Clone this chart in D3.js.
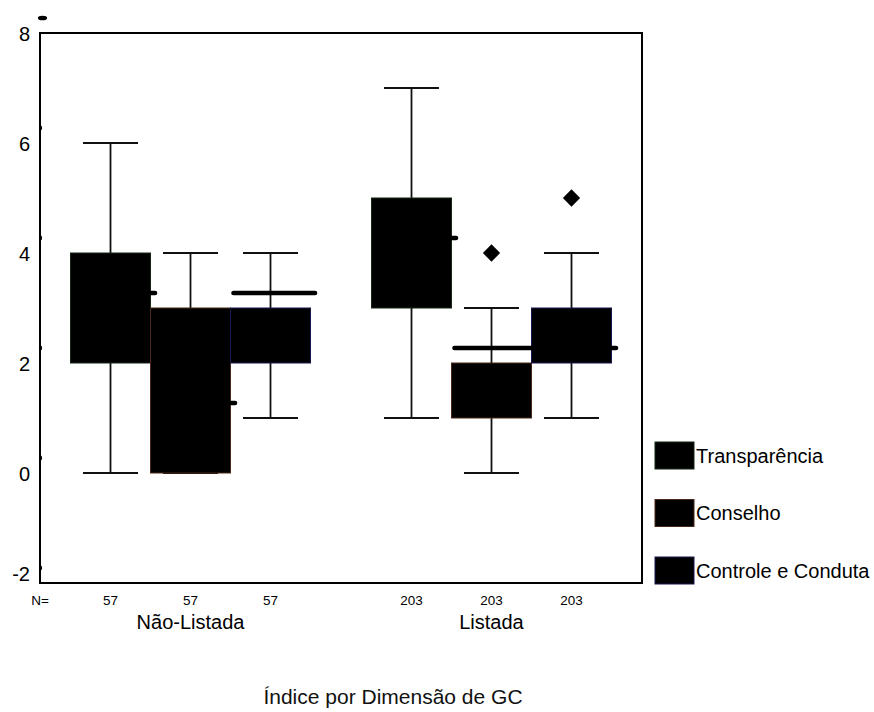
<!DOCTYPE html>
<html>
<head>
<meta charset="utf-8">
<script src="https://cdn.jsdelivr.net/npm/d3@7"></script>
<style>
  html, body { margin: 0; padding: 0; background: #fff; }
  svg { display: block; font-family: "Liberation Sans", Arial, sans-serif; }
</style>
</head>
<body>
<svg id="chart" width="874" height="712"></svg>
<script>
// Groups, series and sample sizes
const groups = ["Não-Listada", "Listada"];
const series = ["Transparência", "Conselho", "Controle e Conduta"];
const counts = [57, 203];
const yTicks = [-2, 0, 2, 4, 6, 8];

// Five-number summaries per series: [min, q1, median, q3, max], one per group
const transparencia = [[0, 2, 3, 4, 6], [1, 3, 4, 5, 7]];
const conselho      = [[0, 0, 1, 3, 4], [0, 1, 2, 2, 3]];
const controle      = [[1, 2, 3, 3, 4], [1, 2, 2, 3, 4]];

// Outliers per series, per group
const transparenciaOut = [[], []];
const conselhoOut      = [[], [4]];
const controleOut      = [[], [5]];

const summaries = [transparencia, conselho, controle];
const outliers = [transparenciaOut, conselhoOut, controleOut];
const edgeColors = ["#142814", "#4a2818", "#181850"];

const svg = d3.select("#chart");
const plot = { left: 40, right: 642, top: 33, bottom: 583 };

const y = d3.scaleLinear().domain([-2, 8]).range([plot.bottom, plot.top]);
const xGroup = d3.scaleBand().domain(groups).range([plot.left, plot.right]).padding(0);
const xSeries = d3.scaleBand().domain(series).range([-120, 120]).padding(0);
const bw = xSeries.bandwidth();
const capW = 55;
const medianLift = 15;

const rows = [];
groups.forEach((g, gi) => {
  series.forEach((s, si) => {
    const [mn, q1, md, q3, mx] = summaries[si][gi];
    const cx = xGroup(g) + xGroup.bandwidth() / 2 + xSeries(s) + bw / 2;
    rows.push({ g, s, si, gi, mn, q1, md, q3, mx, cx, out: outliers[si][gi] });
  });
});

// Frame
svg.append("rect")
  .attr("x", plot.left).attr("y", plot.top)
  .attr("width", plot.right - plot.left).attr("height", plot.bottom - plot.top)
  .attr("fill", "none").attr("stroke", "#000").attr("stroke-width", 2);

// Y axis labels (plain hyphen for negatives)
const yAxis = svg.append("g")
  .attr("transform", `translate(${plot.left},0)`)
  .call(d3.axisLeft(y).tickValues(yTicks).tickSize(0).tickPadding(10).tickFormat(d => String(d)));
yAxis.select(".domain").remove();
yAxis.selectAll("text")
  .attr("font-size", 20)
  .attr("font-family", "'Liberation Sans', Arial, sans-serif")
  .attr("fill", "#000")
  .attr("dy", d => d === -2 ? "-0.15em" : "0.35em");

// Tick dots along the axis
svg.append("g").selectAll("ellipse")
  .data(yTicks)
  .join("ellipse")
  .attr("cx", d => d === 8 ? plot.left + 2.5 : plot.left + 0.5)
  .attr("cy", d => y(d) - medianLift)
  .attr("rx", d => d === 8 ? 4.6 : 1.6)
  .attr("ry", d => d === 8 ? 2.3 : 2.4)
  .attr("fill", "#000");

// Whiskers
const wg = svg.append("g").attr("stroke", "#111").attr("stroke-width", 1.8);
rows.forEach(r => {
  wg.append("line").attr("x1", r.cx).attr("x2", r.cx).attr("y1", y(r.q3)).attr("y2", y(r.mx));
  wg.append("line").attr("x1", r.cx).attr("x2", r.cx).attr("y1", y(r.q1)).attr("y2", y(r.mn));
  wg.append("line").attr("x1", r.cx - capW / 2).attr("x2", r.cx + capW / 2).attr("y1", y(r.mx)).attr("y2", y(r.mx));
  wg.append("line").attr("x1", r.cx - capW / 2).attr("x2", r.cx + capW / 2).attr("y1", y(r.mn)).attr("y2", y(r.mn));
});

// Boxes
svg.append("g").selectAll("rect")
  .data(rows)
  .join("rect")
  .attr("x", d => d.cx - bw / 2)
  .attr("y", d => y(d.q3))
  .attr("width", bw)
  .attr("height", d => y(d.q1) - y(d.q3))
  .attr("fill", "#000")
  .attr("stroke", d => edgeColors[d.si])
  .attr("stroke-width", 1);

// Medians
svg.append("g").selectAll("line")
  .data(rows)
  .join("line")
  .attr("x1", d => d.cx - bw / 2 + 3)
  .attr("x2", d => d.cx + bw / 2 + 4.5)
  .attr("y1", d => y(d.md) - medianLift)
  .attr("y2", d => y(d.md) - medianLift)
  .attr("stroke", "#000")
  .attr("stroke-width", 4.6)
  .attr("stroke-linecap", "round");

// Outliers
const diamond = d3.symbol().type(d3.symbolDiamond2).size(190);
rows.forEach(r => {
  svg.append("g").selectAll("path")
    .data(r.out)
    .join("path")
    .attr("d", diamond)
    .attr("transform", v => `translate(${r.cx},${y(v)})`)
    .attr("fill", "#000");
});

// Sample sizes
svg.append("text")
  .attr("x", plot.left).attr("y", 605)
  .attr("text-anchor", "middle").attr("font-size", 13.5)
  .text("N=");
svg.append("g").selectAll("text")
  .data(rows)
  .join("text")
  .attr("x", d => d.cx)
  .attr("y", 605)
  .attr("text-anchor", "middle")
  .attr("font-size", 13.5)
  .text(d => counts[d.gi]);

// Group labels
svg.append("g").selectAll("text")
  .data(groups)
  .join("text")
  .attr("x", d => xGroup(d) + xGroup.bandwidth() / 2)
  .attr("y", 629)
  .attr("text-anchor", "middle")
  .attr("font-size", 20)
  .text(d => d);

// Axis title
svg.append("text")
  .attr("x", 393).attr("y", 704)
  .attr("text-anchor", "middle")
  .attr("font-size", 21)
  .attr("fill", "#111")
  .text("Índice por Dimensão de GC");

// Legend
const legend = svg.append("g").attr("transform", "translate(655,442)");
const lg = legend.selectAll("g")
  .data(series)
  .join("g")
  .attr("transform", (d, i) => `translate(0,${i * 57.5})`);
lg.append("rect")
  .attr("width", 39).attr("height", 27)
  .attr("fill", "#000")
  .attr("stroke", (d, i) => edgeColors[i])
  .attr("stroke-width", 1);
lg.append("text")
  .attr("x", 41).attr("y", 20.5)
  .attr("font-size", 20)
  .text(d => d);
</script>
</body>
</html>
